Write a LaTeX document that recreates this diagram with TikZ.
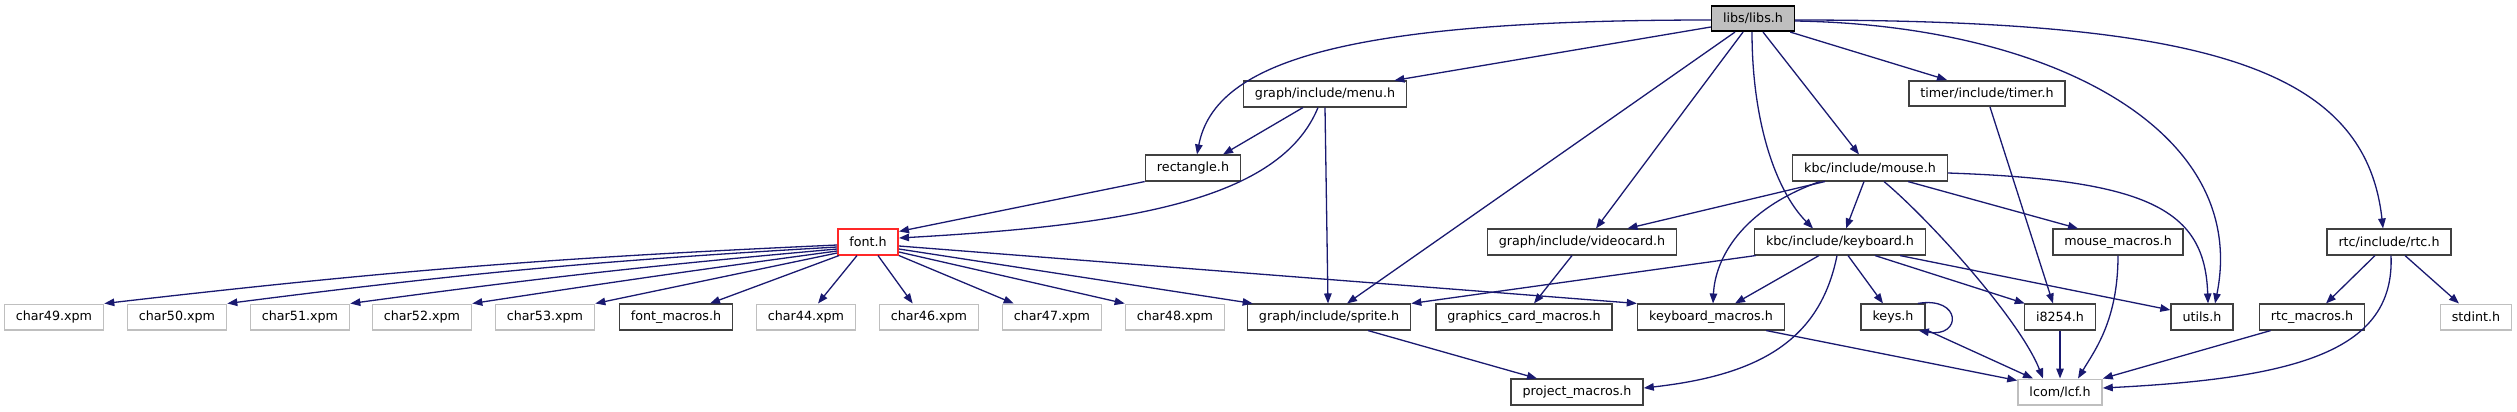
\documentclass[tikz,border=0pt]{standalone}
\usepackage{fontspec}
\setmainfont{DejaVu Sans}
\usetikzlibrary{arrows.meta,calc}
\definecolor{edgec}{HTML}{191970}
\definecolor{bordc}{HTML}{404040}
\definecolor{greyc}{HTML}{BFBFBF}
\tikzset{
 box/.style={draw=bordc, line width=1.6bp, fill=white, inner xsep=11.5bp, inner ysep=0pt, minimum height=25.5bp, font=\fontsize{12.7bp}{15bp}\selectfont},
 extbox/.style={box, draw=greyc, line width=1.5bp},
 rootbox/.style={box, fill=greyc, draw=black},
 redbox/.style={box, draw={rgb,255:red,255;green,40;blue,40}},
 dep/.style={draw=edgec, line width=1.3bp, -{Triangle[length=10bp,width=7.5bp]}},
}
\begin{document}
\begin{tikzpicture}[x=1bp,y=-1bp]
\useasboundingbox (0,0) rectangle (2517,411);
% row 0
\node[rootbox] (libs) at (1753,18.5) {libs/libs.h};
% row 1
\node[box] (menu) at (1325,94) {graph/include/menu.h};
\node[box] (timer) at (1987,93.5) {timer/include/timer.h};
% row 2
\node[box] (rect) at (1193,168) {rectangle.h};
\node[box] (mouse) at (1870,168) {kbc/include/mouse.h};
% row 3
\node[redbox] (font) at (868,242) {font.h};
\node[box] (video) at (1582,242) {graph/include/videocard.h};
\node[box] (kbd) at (1840,242) {kbc/include/keyboard.h};
\node[box] (mmac) at (2118,242) {mouse\_macros.h};
\node[box] (rtc) at (2389,242) {rtc/include/rtc.h};
% row 4
\node[extbox] (c49) at (54,317) {char49.xpm};
\node[extbox] (c50) at (177,317) {char50.xpm};
\node[extbox] (c51) at (300,317) {char51.xpm};
\node[extbox] (c52) at (422,317) {char52.xpm};
\node[extbox] (c53) at (545,317) {char53.xpm};
\node[box] (fmac) at (676,317) {font\_macros.h};
\node[extbox] (c44) at (806,317) {char44.xpm};
\node[extbox] (c46) at (929,317) {char46.xpm};
\node[extbox] (c47) at (1052,317) {char47.xpm};
\node[extbox] (c48) at (1175,317) {char48.xpm};
\node[box] (sprite) at (1329,317) {graph/include/sprite.h};
\node[box] (gcm) at (1524,317) {graphics\_card\_macros.h};
\node[box] (kmac) at (1711,317) {keyboard\_macros.h};
\node[box] (keys) at (1893,317) {keys.h};
\node[box] (i8254) at (2060,317) {i8254.h};
\node[box] (utils) at (2202,317) {utils.h};
\node[box] (rtcmac) at (2312,317) {rtc\_macros.h};
\node[extbox] (stdint) at (2476,317) {stdint.h};
% row 5
\node[box] (pmac) at (1577,392) {project\_macros.h};
\node[extbox] (lcf) at (2060,392) {lcom/lcf.h};

% edges from libs
\draw[dep] ($(libs.west)+(0,1.5)$) .. controls (1350,20) and (1215,60) .. ($(rect.north)+(4,0)$);
\draw[dep] ($(libs.west)+(0,8.5)$) -- ($(menu.north east)+(-13,0)$);
\draw[dep] ($(libs.south)+(-18,0)$) -- ($(sprite.north)+(18,0)$);
\draw[dep] ($(libs.south)+(-10,0)$) -- ($(video.north)+(14,0)$);
\draw[dep] ($(libs.south)+(-1,0)$) .. controls (1752,120) and (1775,190) .. ($(kbd.north)+(-27,0)$);
\draw[dep] ($(libs.south)+(10,0)$) -- ($(mouse.north)+(-11,0)$);
\draw[dep] ($(libs.south east)+(-5,0)$) -- ($(timer.north)+(-40,0)$);
\draw[dep] ($(libs.east)+(0,2.5)$) .. controls (2050,25) and (2250,130) .. ($(utils.north)+(13,0)$);
\draw[dep] ($(libs.east)+(0,1.5)$) .. controls (2200,20) and (2365,65) .. ($(rtc.north)+(-6,0)$);
% menu
\draw[dep] ($(menu.south)+(-22,0)$) -- ($(rect.north)+(30,0)$);
\draw[dep] ($(menu.south)+(-7,0)$) .. controls (1280,200) and (1130,225) .. ($(font.east)+(0,-4)$);
\draw[dep] (menu.south) -- ($(sprite.north)+(-1,0)$);
% rectangle
\draw[dep] (rect.south west) -- ($(font.north east)+(0,3)$);
% font fan
\draw[dep] ($(font.west)+(0,3)$) to[bend right=2] (c49.north east);
\draw[dep] ($(font.west)+(0,5)$) to[bend right=2] (c50.north east);
\draw[dep] ($(font.west)+(0,7)$) to[bend right=1.3] (c51.north east);
\draw[dep] ($(font.west)+(0,9)$) to[bend right=0.5] (c52.north east);
\draw[dep] ($(font.west)+(0,11)$) -- (c53.north east);
\draw[dep] ($(font.south west)+(2,0)$) -- ($(fmac.north)+(34,0)$);
\draw[dep] ($(font.south)+(-11,0)$) -- ($(c44.north)+(12,0)$);
\draw[dep] ($(font.south)+(10,0)$) -- ($(c46.north west)+(34,0)$);
\draw[dep] (font.south east) -- ($(c47.north west)+(12,0)$);
\draw[dep] ($(font.east)+(0,10)$) -- (c48.north west);
\draw[dep] ($(font.east)+(0,7)$) -- ($(sprite.north west)+(6,0)$);
\draw[dep] ($(font.east)+(0,4)$) -- (kmac.north west);
% videocard
\draw[dep] ($(video.south)+(-10,0)$) -- ($(gcm.north)+(10,0)$);
% mouse
\draw[dep] ($(mouse.south west)+(33,0)$) -- ($(video.north east)+(-50,0)$);
\draw[dep] ($(mouse.south)+(-6,0)$) -- ($(kbd.north)+(6,0)$);
\draw[dep] ($(mouse.south west)+(28,0)$) .. controls (1740,210) and (1715,260) .. ($(kmac.north)+(2,0)$);
\draw[dep] ($(mouse.south)+(14,0)$) .. controls (1930,220) and (2020,320) .. ($(lcf.north)+(-17,0)$);
\draw[dep] ($(mouse.south)+(38,0)$) -- ($(mmac.north)+(-40,0)$);
\draw[dep] ($(mouse.east)+(0,5)$) .. controls (2150,180) and (2205,210) .. ($(utils.north)+(6,0)$);
% keyboard
\draw[dep] ($(kbd.south west)+(2,0)$) -- (sprite.north east);
\draw[dep] ($(kbd.south)+(-21,0)$) -- ($(kmac.north)+(24,0)$);
\draw[dep] ($(kbd.south)+(-3,0)$) .. controls (1820,340) and (1760,375) .. ($(pmac.east)+(0,-4)$);
\draw[dep] ($(kbd.south)+(8,0)$) -- ($(keys.north)+(-10,0)$);
\draw[dep] ($(kbd.south)+(35,0)$) -- ($(i8254.north west)+(1,0)$);
\draw[dep] ($(kbd.south)+(60,0)$) -- ($(utils.west)+(0,-7)$);
% timer
\draw[dep] ($(timer.south)+(3,0)$) -- ($(i8254.north)+(-7,0)$);
% keys
\draw[dep] ($(keys.north east)+(-8,0)$) .. controls (1962,296) and (1962,338) .. ($(keys.south east)+(-7,0)$);
\draw[dep] ($(keys.south east)+(2,0)$) -- ($(lcf.north)+(-27,0)$);
% into lcf
\draw[dep] ($(kmac.south east)+(-19,0)$) -- ($(lcf.north west)+(0,2)$);
\draw[dep] (i8254.south) -- (lcf.north);
\draw[dep] (mmac.south) .. controls (2118,320) and (2095,350) .. ($(lcf.north)+(18,0)$);
\draw[dep] ($(rtcmac.south west)+(12,0)$) -- (lcf.north east);
\draw[dep] ($(rtc.south)+(2,0)$) .. controls (2395,350) and (2300,378) .. ($(lcf.east)+(0,-4)$);
% rtc
\draw[dep] ($(rtc.south)+(-14,0)$) -- ($(rtcmac.north)+(14,0)$);
\draw[dep] ($(rtc.south)+(16,0)$) -- ($(stdint.north)+(-17,0)$);
% sprite
\draw[dep] ($(sprite.south)+(39,0)$) -- ($(pmac.north)+(-40,0)$);
\end{tikzpicture}
\end{document}
